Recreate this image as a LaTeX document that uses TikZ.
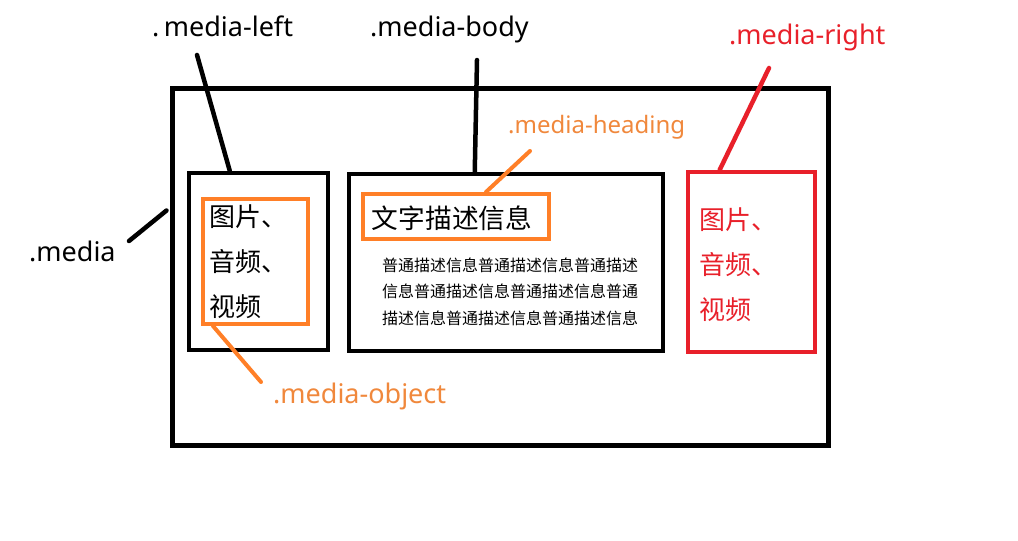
\documentclass[tikz,border=0pt]{standalone}
\usepackage{fontspec}
\setmainfont{Noto Sans}
\newfontfamily\cjk{Noto Sans CJK SC}
\usetikzlibrary{calc}
\definecolor{pblack}{HTML}{000000}
\definecolor{porange}{HTML}{FF7F27}
\definecolor{ptext}{HTML}{F0883C}
\definecolor{pred}{HTML}{E8202A}
\tikzset{
  box/.style={draw, rectangle, inner sep=0pt, line width=#1},
  box/.default=4.5pt,
  conn/.style={line width=4.5pt, line cap=round},
  lbl/.style={inner sep=0pt, anchor=base west, font=\fontsize{27}{32}\selectfont},
}
\begin{document}
\begin{tikzpicture}[x=1pt, y=-1pt]
\useasboundingbox (0,0) rectangle (1018,541);
% boxes
\node[box=5pt, minimum width=656pt, minimum height=357pt] (outer) at (500,266.5) {};
\node[box, minimum width=139pt, minimum height=177pt] (left) at (258.5,261.5) {};
\node[box=4pt, draw=porange, minimum width=105pt, minimum height=125pt] (object) at (255.5,261.5) {};
\node[box, minimum width=314pt, minimum height=177pt] (body) at (506,262.5) {};
\node[box=4pt, draw=porange, minimum width=186pt, minimum height=45pt] (heading) at (456,216.5) {};
\node[box, draw=pred, minimum width=127pt, minimum height=180pt] (right) at (751.5,262) {};
% contents
\node[inner sep=0pt, anchor=west, align=left, font=\cjk\fontsize{26}{45}\selectfont] (lefttext) at (209,262) {图片、\\音频、\\视频};
\node[inner sep=0pt, font=\cjk\fontsize{26.7}{30}\selectfont] (headtext) at (452,218) {文字描述信息};
\node[inner sep=0pt, align=left, font=\cjk\fontsize{16}{26.5}\selectfont] (bodytext) at (510,291.5) {普通描述信息普通描述信息普通描述\\信息普通描述信息普通描述信息普通\\描述信息普通描述信息普通描述信息};
\node[inner sep=0pt, anchor=west, align=left, text=pred, font=\cjk\fontsize{26}{45}\selectfont] (righttext) at (699,265) {图片、\\音频、\\视频};
% labels
\node[lbl] (lleft) at (152,36) {.\,media-left};
\node[lbl] (lbody) at (370,36) {.media-body};
\node[lbl, text=pred] (lright) at (729,44) {.media-right};
\node[lbl, text=ptext, font=\fontsize{24}{28}\selectfont] (lheading) at (508,133) {.media-heading};
\node[lbl] (lmedia) at (29,261) {.media};
\node[lbl, text=ptext] (lobject) at (273,403) {.media-object};
% free ends of connectors
\coordinate (cleft) at (197,55);
\coordinate (cbody) at (477,60);
\coordinate (cheading) at (530,151);
\coordinate (cright) at (769,68);
\coordinate (cmedia) at (129,241);
\coordinate (cobject) at (261,382);
% connectors
\draw[conn] (cleft) -- ($(left.north west)+(43,0)$);
\draw[conn] (cbody) -- ($(body.north west)+(128,0)$);
\draw[conn, porange, line width=4pt] (cheading) -- ($(heading.north west)+(125,0)$);
\draw[conn, pred] (cright) -- ($(right.north west)+(34,0)$);
\draw[conn] (cmedia) -- ($(outer.north west)+(-3,125)$);
\draw[conn, porange, line width=4pt] ($(object.south west)+(12,0)$) -- (cobject);
\end{tikzpicture}
\end{document}
